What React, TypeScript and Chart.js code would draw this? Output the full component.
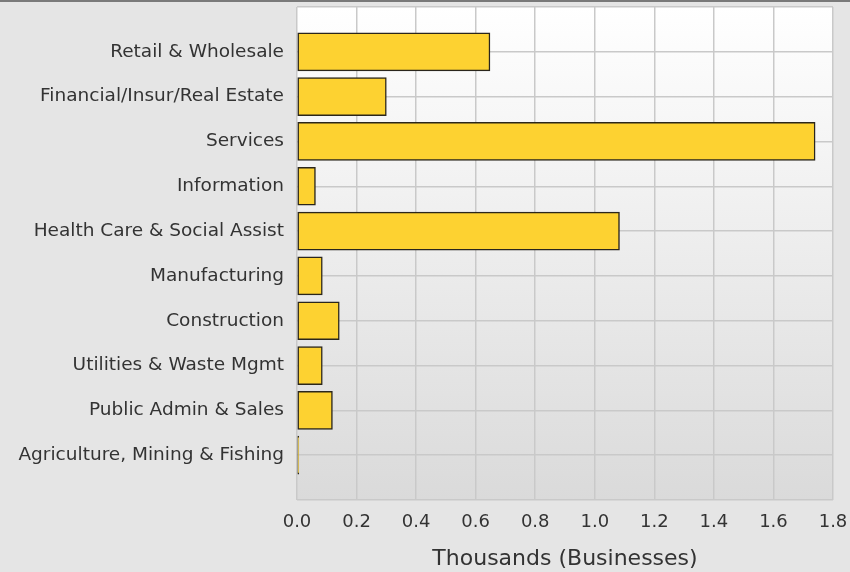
import React, { useEffect, useRef } from "react";
import { Chart, registerables } from "chart.js";

Chart.register(...registerables);

const categories = [
  "Retail & Wholesale",
  "Financial/Insur/Real Estate",
  "Services",
  "Information",
  "Health Care & Social Assist",
  "Manufacturing",
  "Construction",
  "Utilities & Waste Mgmt",
  "Public Admin & Sales",
  "Agriculture, Mining & Fishing",
];

const businesses = [0.648, 0.3, 1.74, 0.062, 1.083, 0.085, 0.142, 0.085, 0.119, 0.006];

const xTicksMax = 1.8;
const xTickStep = 0.2;
const xAxisTitle = "Thousands (Businesses)";

const W = 850;
const H = 572;
const PLOT_LEFT = 297;
const PLOT_BOTTOM = 500;
const FONT = "'DejaVu Sans', Verdana, sans-serif";

export default function App() {
  const ref = useRef<HTMLCanvasElement | null>(null);

  useEffect(() => {
    if (!ref.current) return;
    const labels = ["", ...categories, ""];
    const data = [null, ...businesses, null];

    const bgPlugin = {
      id: "bgPlugin",
      beforeDraw(chart: any) {
        const { ctx, chartArea } = chart;
        ctx.save();
        ctx.fillStyle = "#e5e5e5";
        ctx.fillRect(0, 0, chart.width, chart.height);
        ctx.fillStyle = "#7a7a7a";
        ctx.fillRect(0, 0, chart.width, 2);
        const g = ctx.createLinearGradient(0, chartArea.top, 0, chartArea.bottom);
        g.addColorStop(0, "#ffffff");
        g.addColorStop(1, "#dadada");
        ctx.fillStyle = g;
        ctx.fillRect(chartArea.left, chartArea.top, chartArea.right - chartArea.left, chartArea.bottom - chartArea.top);
        ctx.restore();
      },
    };

    const chart = new Chart(ref.current, {
      type: "bar",
      data: {
        labels,
        datasets: [
          {
            data: data as any,
            backgroundColor: "#fdd231",
            borderColor: "#2a261c",
            borderWidth: 1.5,
            barThickness: 38,
            borderSkipped: false,
          },
        ],
      },
      options: {
        indexAxis: "y",
        responsive: false,
        animation: false,
        layout: { padding: { top: 7, right: 17, left: 0, bottom: 0 } },
        plugins: {
          legend: { display: false },
          tooltip: { enabled: false },
        },
        scales: {
          x: {
            type: "linear",
            min: 0,
            max: xTicksMax,
            grid: { color: "#c9c9c9", lineWidth: 1.5, drawTicks: false },
            border: { display: false },
            ticks: {
              stepSize: xTickStep,
              padding: 12,
              color: "#333",
              font: { family: FONT, size: 18 },
              callback: (v: any) => Number(v).toFixed(1),
            },
            title: {
              display: true,
              text: xAxisTitle,
              color: "#333",
              font: { family: FONT, size: 22 },
              padding: { top: 0, bottom: 0 },
            },
            afterFit: (s: any) => {
              s.height = H - PLOT_BOTTOM;
              s.paddingLeft = 0;
              s.paddingRight = 0;
            },
          },
          y: {
            type: "category",
            offset: false,
            grid: { color: "#c9c9c9", lineWidth: 1.5, drawTicks: false, offset: false },
            border: { display: false },
            ticks: {
              autoSkip: false,
              padding: 13,
              color: "#333",
              font: { family: FONT, size: 18.5 },
            },
            afterFit: (s: any) => {
              s.width = PLOT_LEFT;
              s.paddingTop = 0;
              s.paddingBottom = 0;
            },
          },
        },
      },
      plugins: [bgPlugin],
    });
    return () => chart.destroy();
  }, []);

  return (
    <div style={{ position: "absolute", left: 0, top: 0, width: W, height: H }}>
      <canvas ref={ref} width={W} height={H} style={{ display: "block", width: W, height: H }} />
    </div>
  );
}
